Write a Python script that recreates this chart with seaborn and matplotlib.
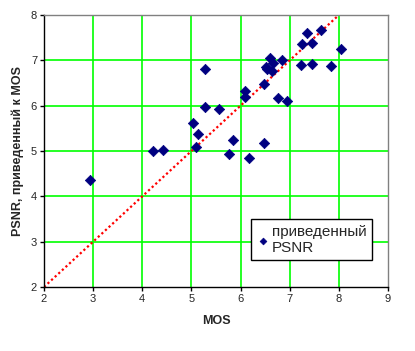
import matplotlib
matplotlib.use("Agg")
import matplotlib.pyplot as plt
import seaborn as sns
import pandas as pd

mos = [5.27, 5.28, 5.57, 5.04, 5.13, 5.10, 4.21, 4.43, 5.77,
       6.59, 6.67, 6.85, 6.51, 6.54, 6.63, 6.48, 6.10, 6.08, 6.77, 6.95,
       7.23, 7.45, 7.84, 7.25, 7.35, 7.45, 7.64, 8.04, 5.84, 6.48, 6.18,
       2.94]
psnr = [6.81, 5.96, 5.93, 5.62, 5.38, 5.09, 5.01, 5.03, 4.94,
        7.06, 6.95, 7.01, 6.86, 6.81, 6.77, 6.48, 6.33, 6.20, 6.18, 6.11,
        6.90, 6.92, 6.87, 7.35, 7.60, 7.38, 7.68, 7.26, 5.25, 5.18, 4.85,
        4.37]
line_x = [2, 8]
line_y = [2, 8]
x_ticks = [2, 3, 4, 5, 6, 7, 8, 9]
y_ticks = [2, 3, 4, 5, 6, 7, 8]

sns.set_style("white")
plt.rcParams['font.family'] = ['Liberation Sans', 'DejaVu Sans']

fig = plt.figure(figsize=(4.15, 3.51), dpi=100)
ax = fig.add_axes([44/415, 1-287/351, 344/415, 272/351])

df = pd.DataFrame({"MOS": mos, "PSNR": psnr})
ax.plot(line_x, line_y, color="#ff0000", linestyle=(0, (1, 1.2)), linewidth=1.6, zorder=2)
sns.scatterplot(data=df, x="MOS", y="PSNR", ax=ax, marker="D", s=28,
                color="#000080", edgecolor="#000080", linewidth=0.5,
                label="приведенный\nPSNR", zorder=3)

ax.set_xlim(2, 9)
ax.set_ylim(2, 8)
ax.set_xticks(x_ticks)
ax.set_yticks(y_ticks)
ax.grid(True, color="#00ff00", linewidth=1.2, zorder=0)
ax.set_axisbelow(True)
fig.canvas.draw()
xg = ax.xaxis.get_gridlines()
yg = ax.yaxis.get_gridlines()
for g in (xg[0], xg[-1], yg[0], yg[-1]):
    g.set_visible(False)

for s in ["top", "right"]:
    ax.spines[s].set_color("#808080")
    ax.spines[s].set_linewidth(1)
for s in ["left", "bottom"]:
    ax.spines[s].set_color("black")
    ax.spines[s].set_linewidth(1)
for s in ax.spines.values():
    s.set_zorder(5)

ax.tick_params(axis="both", direction="out", length=3, width=1, color="black",
               labelsize=8, pad=2, left=True, bottom=True)

ax.set_xlabel("MOS", fontsize=9, fontweight="bold", labelpad=8)
ax.set_ylabel("PSNR, приведенный к MOS", fontsize=9, fontweight="bold", labelpad=5)

leg = ax.legend(loc="lower left", bbox_to_anchor=(0.602, 0.099), fontsize=11,
                frameon=True, fancybox=False, handletextpad=0.2, handlelength=0.8,
                borderpad=0.35, borderaxespad=0, markerscale=0.65)
leg.get_frame().set_edgecolor("black")
leg.get_frame().set_linewidth(1)
leg.get_frame().set_facecolor("white")
leg.get_frame().set_alpha(1)

fig.savefig("out.png", dpi=100)
